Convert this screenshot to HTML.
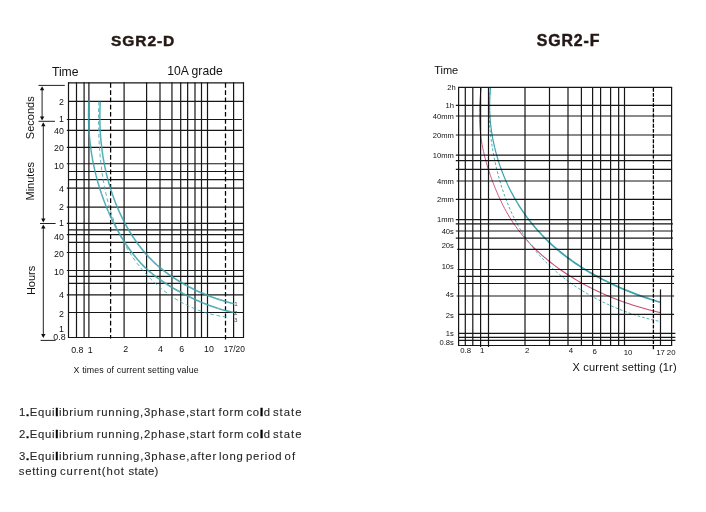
<!DOCTYPE html>
<html><head><meta charset="utf-8"><title>SGR2 curves</title>
<style>
html,body{margin:0;padding:0;background:#fff;}
body{width:706px;height:512px;overflow:hidden;font-family:"Liberation Sans",sans-serif;}
svg{display:block;will-change:transform;transform:translateZ(0);}
svg text{font-family:"Liberation Sans",sans-serif;}
</style></head>
<body>
<svg width="706" height="512" viewBox="0 0 706 512">
<rect width="706" height="512" fill="#ffffff"/>
<g stroke="#161616" stroke-width="1.2">
<line x1="68.5" y1="82.3" x2="68.5" y2="338.0" />
<line x1="76.5" y1="82.3" x2="76.5" y2="338.0" />
<line x1="84.1" y1="82.3" x2="84.1" y2="338.0" />
<line x1="88.9" y1="82.3" x2="88.9" y2="338.0" />
<line x1="124.1" y1="82.3" x2="124.1" y2="338.0" />
<line x1="146.6" y1="82.3" x2="146.6" y2="338.0" />
<line x1="160" y1="82.3" x2="160" y2="338.0" />
<line x1="171.95" y1="82.3" x2="171.95" y2="338.0" />
<line x1="180.7" y1="82.3" x2="180.7" y2="338.0" />
<line x1="187.65" y1="82.3" x2="187.65" y2="338.0" />
<line x1="195" y1="82.3" x2="195" y2="338.0" />
<line x1="201.5" y1="82.3" x2="201.5" y2="338.0" />
<line x1="207.5" y1="82.3" x2="207.5" y2="338.0" />
<line x1="233.6" y1="82.3" x2="233.6" y2="338.0" />
<line x1="243.5" y1="82.3" x2="243.5" y2="338.0" />
<line x1="68.0" y1="82.8" x2="244.0" y2="82.8" />
<line x1="68.0" y1="101.3" x2="244.0" y2="101.3" />
<line x1="66.8" y1="119.5" x2="241.9" y2="119.5" />
<line x1="66.8" y1="130.4" x2="241.9" y2="130.4" />
<line x1="66.8" y1="147.4" x2="244.0" y2="147.4" />
<line x1="66.8" y1="163.75" x2="244.0" y2="163.75" />
<line x1="68.0" y1="171.5" x2="244.0" y2="171.5" />
<line x1="68.0" y1="179.6" x2="244.0" y2="179.6" />
<line x1="66.8" y1="188.2" x2="244.0" y2="188.2" />
<line x1="66.8" y1="207.2" x2="244.0" y2="207.2" />
<line x1="66.8" y1="223.3" x2="244.0" y2="223.3" />
<line x1="68.0" y1="229.9" x2="244.0" y2="229.9" />
<line x1="66.8" y1="234.7" x2="244.0" y2="234.7" />
<line x1="68.0" y1="242.4" x2="244.0" y2="242.4" />
<line x1="66.8" y1="252.5" x2="244.0" y2="252.5" />
<line x1="66.8" y1="270.5" x2="244.0" y2="270.5" />
<line x1="68.0" y1="276.45" x2="244.0" y2="276.45" />
<line x1="68.0" y1="283.45" x2="244.0" y2="283.45" />
<line x1="66.8" y1="294.8" x2="244.0" y2="294.8" />
<line x1="68.0" y1="312.5" x2="244.0" y2="312.5" />
<line x1="68.0" y1="337.5" x2="244.0" y2="337.5" />
<line x1="110.6" y1="83.1" x2="110.6" y2="338.5" stroke-dasharray="4.7 2.5" stroke-width="1.25" stroke="#000"/>
<line x1="225.5" y1="83.1" x2="225.5" y2="339.5" stroke-dasharray="4.7 2.5" stroke-width="1.25" stroke="#000"/>
</g>
<g stroke="#222" stroke-width="1" fill="#111">
<line x1="38.5" y1="85.4" x2="64.8" y2="85.4" />
<line x1="38.5" y1="121.3" x2="55" y2="121.3" />
<line x1="40" y1="223.5" x2="55.6" y2="223.5" />
<line x1="40.6" y1="340.4" x2="55.6" y2="340.4" />
<line x1="42.1" y1="88.2" x2="42.1" y2="118.4" />
<path d="M42.1,86.2 l-2.2,4 h4.4 z" stroke="none"/>
<path d="M42.1,120.4 l-2.2,-4 h4.4 z" stroke="none"/>
<line x1="43.3" y1="124.3" x2="43.3" y2="220.6" />
<path d="M43.3,122.3 l-2.2,4 h4.4 z" stroke="none"/>
<path d="M43.3,222.6 l-2.2,-4 h4.4 z" stroke="none"/>
<line x1="43.3" y1="226.6" x2="43.3" y2="336" />
<path d="M43.3,224.6 l-2.2,4 h4.4 z" stroke="none"/>
<path d="M43.3,338 l-2.2,-4 h4.4 z" stroke="none"/>
</g>
<g fill="none" stroke="#3ba5ad" stroke-linecap="butt" opacity="0.88">
<path d="M100.30,101.60 L100.14,104.55 L100.01,107.51 L99.92,110.47 L99.86,113.44 L99.84,116.41 L99.85,119.38" stroke="#3ba5ad" stroke-width="1.50" stroke-linejoin="round"/>
<path d="M99.85,119.38 L99.90,122.36 L99.98,125.34 L100.09,128.32 L100.25,131.30 L100.43,134.28 L100.66,137.25" stroke="#3ba5ad" stroke-width="1.50" stroke-linejoin="round"/>
<path d="M100.66,137.25 L100.91,140.23 L101.21,143.21 L101.54,146.18 L101.91,149.15 L102.31,152.12 L102.75,155.08" stroke="#3ba5ad" stroke-width="1.50" stroke-linejoin="round"/>
<path d="M102.75,155.08 L103.23,158.03 L103.74,160.98 L104.29,163.92 L104.88,166.85 L105.50,169.78 L106.17,172.70" stroke="#3ba5ad" stroke-width="1.50" stroke-linejoin="round"/>
<path d="M106.17,172.70 L106.87,175.60 L107.61,178.50 L108.38,181.39 L109.20,184.26 L110.06,187.12 L110.95,189.97" stroke="#3ba5ad" stroke-width="1.50" stroke-linejoin="round"/>
<path d="M110.95,189.97 L111.88,192.81 L112.85,195.63 L113.86,198.43 L114.91,201.22 L116.00,204.00 L117.13,206.75" stroke="#3ba5ad" stroke-width="1.50" stroke-linejoin="round"/>
<path d="M117.13,206.75 L118.30,209.49 L119.51,212.21 L120.76,214.91 L122.05,217.59 L123.38,220.25 L124.75,222.89" stroke="#3ba5ad" stroke-width="1.54" stroke-linejoin="round"/>
<path d="M124.75,222.89 L126.16,225.51 L127.61,228.11 L129.11,230.68 L130.65,233.22 L132.23,235.73 L133.86,238.22" stroke="#3ba5ad" stroke-width="1.58" stroke-linejoin="round"/>
<path d="M133.86,238.22 L135.53,240.67 L137.25,243.08 L139.01,245.47 L140.83,247.81 L142.69,250.12 L144.60,252.38" stroke="#3ba5ad" stroke-width="1.61" stroke-linejoin="round"/>
<path d="M144.60,252.38 L146.56,254.61 L148.57,256.79 L150.63,258.92 L152.74,261.01 L154.89,263.05 L157.09,265.05" stroke="#3ba5ad" stroke-width="1.65" stroke-linejoin="round"/>
<path d="M157.09,265.05 L159.34,267.01 L161.63,268.92 L163.95,270.78 L166.32,272.60 L168.73,274.38 L171.17,276.10" stroke="#3ba5ad" stroke-width="1.65" stroke-linejoin="round"/>
<path d="M171.17,276.10 L173.64,277.79 L176.15,279.43 L178.70,281.02 L181.27,282.57 L183.87,284.07 L186.49,285.53" stroke="#3ba5ad" stroke-width="1.65" stroke-linejoin="round"/>
<path d="M186.49,285.53 L189.15,286.95 L191.82,288.32 L194.52,289.64 L197.24,290.92 L199.98,292.16 L202.74,293.36" stroke="#3ba5ad" stroke-width="1.65" stroke-linejoin="round"/>
<path d="M202.74,293.36 L205.51,294.51 L208.30,295.62 L211.10,296.69 L213.91,297.72 L216.73,298.70 L219.56,299.65" stroke="#3ba5ad" stroke-width="1.65" stroke-linejoin="round"/>
<path d="M219.56,299.65 L222.40,300.55 L225.24,301.41 L228.09,302.23 L230.94,303.01 L233.78,303.75" stroke="#3ba5ad" stroke-width="1.65" stroke-linejoin="round"/>
<path d="M89.00,100.20 L88.83,103.36 L88.69,106.52 L88.60,109.68 L88.55,112.84 L88.54,116.01 L88.57,119.18" stroke="#3ba5ad" stroke-width="1.50" stroke-linejoin="round"/>
<path d="M88.57,119.18 L88.64,122.34 L88.75,125.51 L88.91,128.67 L89.10,131.83 L89.33,134.99 L89.61,138.15" stroke="#3ba5ad" stroke-width="1.50" stroke-linejoin="round"/>
<path d="M89.61,138.15 L89.92,141.30 L90.28,144.45 L90.67,147.60 L91.11,150.74 L91.59,153.87 L92.11,157.00" stroke="#3ba5ad" stroke-width="1.50" stroke-linejoin="round"/>
<path d="M92.11,157.00 L92.66,160.12 L93.26,163.23 L93.90,166.34 L94.58,169.43 L95.30,172.52 L96.06,175.59" stroke="#3ba5ad" stroke-width="1.50" stroke-linejoin="round"/>
<path d="M96.06,175.59 L96.87,178.66 L97.71,181.71 L98.59,184.76 L99.51,187.79 L100.48,190.80 L101.48,193.81" stroke="#3ba5ad" stroke-width="1.50" stroke-linejoin="round"/>
<path d="M101.48,193.81 L102.52,196.80 L103.61,199.77 L104.73,202.73 L105.90,205.68 L107.10,208.60 L108.35,211.51" stroke="#3ba5ad" stroke-width="1.51" stroke-linejoin="round"/>
<path d="M108.35,211.51 L109.64,214.41 L110.96,217.28 L112.33,220.14 L113.74,222.97 L115.19,225.79 L116.67,228.59" stroke="#3ba5ad" stroke-width="1.55" stroke-linejoin="round"/>
<path d="M116.67,228.59 L118.20,231.36 L119.77,234.12 L121.38,236.85 L123.03,239.55 L124.72,242.23 L126.46,244.88" stroke="#3ba5ad" stroke-width="1.59" stroke-linejoin="round"/>
<path d="M126.46,244.88 L128.25,247.49 L130.08,250.07 L131.96,252.61 L133.90,255.10 L135.89,257.55 L137.93,259.95" stroke="#3ba5ad" stroke-width="1.63" stroke-linejoin="round"/>
<path d="M137.93,259.95 L140.03,262.29 L142.19,264.59 L144.41,266.82 L146.69,268.99 L149.04,271.10 L151.44,273.15" stroke="#3ba5ad" stroke-width="1.65" stroke-linejoin="round"/>
<path d="M151.44,273.15 L153.90,275.14 L156.41,277.07 L158.97,278.95 L161.57,280.78 L164.21,282.55 L166.89,284.28" stroke="#3ba5ad" stroke-width="1.65" stroke-linejoin="round"/>
<path d="M166.89,284.28 L169.60,285.96 L172.34,287.60 L175.10,289.20 L177.88,290.77 L180.68,292.29 L183.49,293.78" stroke="#3ba5ad" stroke-width="1.65" stroke-linejoin="round"/>
<path d="M183.49,293.78 L186.32,295.24 L189.15,296.66 L192.00,298.04 L194.87,299.39 L197.75,300.69 L200.64,301.95" stroke="#3ba5ad" stroke-width="1.65" stroke-linejoin="round"/>
<path d="M200.64,301.95 L203.56,303.16 L206.49,304.33 L209.44,305.45 L212.40,306.52 L215.39,307.54 L218.40,308.51" stroke="#3ba5ad" stroke-width="1.65" stroke-linejoin="round"/>
<path d="M218.40,308.51 L221.43,309.43 L224.48,310.28 L227.55,311.08 L230.65,311.82 L233.76,312.50" stroke="#3ba5ad" stroke-width="1.65" stroke-linejoin="round"/>
<path d="M98.70,101.60 C98.69,102.26 98.64,104.23 98.62,105.55 C98.59,106.87 98.57,108.20 98.56,109.53 C98.54,110.85 98.53,112.18 98.52,113.52 C98.52,114.85 98.51,116.19 98.52,117.53 C98.52,118.86 98.53,120.21 98.54,121.55 C98.55,122.89 98.57,124.24 98.59,125.59 C98.61,126.93 98.64,128.28 98.67,129.64 C98.71,130.99 98.75,132.34 98.79,133.69 C98.84,135.05 98.89,136.40 98.95,137.76 C99.01,139.12 99.07,140.47 99.14,141.83 C99.22,143.19 99.29,144.55 99.38,145.91 C99.47,147.27 99.56,148.62 99.66,149.98 C99.76,151.34 99.87,152.70 99.98,154.06 C100.10,155.42 100.22,156.78 100.35,158.14 C100.48,159.50 100.62,160.85 100.77,162.21 C100.92,163.57 101.07,164.92 101.24,166.28 C101.40,167.63 101.58,168.99 101.76,170.34 C101.94,171.69 102.14,173.04 102.34,174.39 C102.54,175.74 102.75,177.08 102.97,178.43 C103.19,179.77 103.42,181.11 103.66,182.45 C103.90,183.79 104.15,185.13 104.41,186.46 C104.67,187.80 104.95,189.13 105.23,190.46 C105.51,191.79 105.80,193.11 106.11,194.44 C106.41,195.76 106.73,197.08 107.05,198.39 C107.38,199.71 107.72,201.02 108.07,202.33 C108.42,203.63 108.78,204.94 109.15,206.23 C109.52,207.53 109.91,208.83 110.31,210.12 C110.71,211.41 111.12,212.69 111.54,213.97 C111.96,215.25 112.40,216.53 112.85,217.80 C113.30,219.07 113.76,220.33 114.23,221.59 C114.71,222.85 115.20,224.11 115.70,225.35 C116.20,226.60 116.72,227.84 117.25,229.08 C117.78,230.31 118.32,231.54 118.88,232.77 C119.44,233.99 120.01,235.21 120.60,236.41 C121.19,237.62 121.79,238.83 122.41,240.02 C123.03,241.22 123.66,242.41 124.31,243.59 C124.95,244.77 125.62,245.94 126.30,247.11 C126.97,248.27 127.67,249.43 128.37,250.58 C129.08,251.72 129.80,252.87 130.54,254.00 C131.28,255.13 132.03,256.25 132.80,257.36 C133.56,258.47 134.34,259.58 135.14,260.67 C135.93,261.76 136.74,262.84 137.56,263.92 C138.38,264.99 139.22,266.05 140.06,267.10 C140.91,268.15 141.78,269.19 142.65,270.21 C143.53,271.24 144.42,272.26 145.32,273.26 C146.22,274.26 147.14,275.25 148.06,276.23 C148.99,277.21 149.93,278.18 150.88,279.13 C151.84,280.08 152.80,281.02 153.78,281.95 C154.76,282.87 155.75,283.78 156.75,284.68 C157.75,285.58 158.77,286.46 159.80,287.33 C160.82,288.20 161.86,289.05 162.91,289.89 C163.96,290.73 165.02,291.55 166.09,292.36 C167.16,293.16 168.25,293.96 169.34,294.73 C170.44,295.51 171.54,296.26 172.66,297.01 C173.78,297.75 174.91,298.47 176.04,299.18 C177.18,299.89 178.33,300.58 179.49,301.25 C180.65,301.92 181.82,302.58 183.00,303.21 C184.18,303.85 185.37,304.47 186.57,305.06 C187.77,305.66 188.98,306.24 190.19,306.80 C191.41,307.36 192.64,307.90 193.88,308.42 C195.12,308.94 196.37,309.45 197.62,309.93 C198.88,310.41 200.15,310.87 201.42,311.30 C202.69,311.74 203.98,312.16 205.27,312.56 C206.56,312.95 207.86,313.33 209.17,313.68 C210.48,314.03 211.80,314.36 213.12,314.67 C214.45,314.98 215.78,315.26 217.13,315.53 C218.47,315.79 219.82,316.03 221.18,316.24 C222.53,316.46 223.90,316.65 225.27,316.82 C226.64,316.99 228.72,317.18 229.41,317.25" stroke-width="0.95" stroke-dasharray="3.8 2.7"/>
</g>
<g stroke="#161616" stroke-width="1.2">
<line x1="458.6" y1="86.9" x2="458.6" y2="346.0" />
<line x1="465.3" y1="86.9" x2="465.3" y2="346.0" />
<line x1="472.8" y1="86.9" x2="472.8" y2="346.0" />
<line x1="480.6" y1="86.9" x2="480.6" y2="347.1" />
<line x1="488.5" y1="86.9" x2="488.5" y2="347.1" />
<line x1="525" y1="86.9" x2="525" y2="346.0" />
<line x1="549.5" y1="86.9" x2="549.5" y2="346.0" />
<line x1="568" y1="86.9" x2="568" y2="346.0" />
<line x1="581.4" y1="86.9" x2="581.4" y2="346.0" />
<line x1="592.6" y1="86.9" x2="592.6" y2="346.0" />
<line x1="600.6" y1="86.9" x2="600.6" y2="346.0" />
<line x1="610.6" y1="86.9" x2="610.6" y2="346.0" />
<line x1="618.65" y1="86.9" x2="618.65" y2="346.0" />
<line x1="624.5" y1="86.9" x2="624.5" y2="346.0" />
<line x1="671.6" y1="86.9" x2="671.6" y2="346.0" />
<line x1="660.5" y1="289.4" x2="660.5" y2="346.0" />
<line x1="458.1" y1="87.4" x2="672.1" y2="87.4" />
<line x1="455.8" y1="105.4" x2="672.1" y2="105.4" />
<line x1="455.8" y1="116" x2="672.1" y2="116" />
<line x1="455.8" y1="135" x2="672.1" y2="135" />
<line x1="455.8" y1="155.2" x2="672.1" y2="155.2" />
<line x1="455.8" y1="160.6" x2="672.1" y2="160.6" />
<line x1="455.8" y1="169.4" x2="672.1" y2="169.4" />
<line x1="456.6" y1="181" x2="672.1" y2="181" />
<line x1="455.8" y1="199.4" x2="672.1" y2="199.4" />
<line x1="455.8" y1="219.6" x2="672.1" y2="219.6" />
<line x1="455.8" y1="223.9" x2="672.9" y2="223.9" />
<line x1="455.8" y1="231" x2="672.9" y2="231" />
<line x1="455.8" y1="238.1" x2="672.9" y2="238.1" />
<line x1="457.20000000000005" y1="249.3" x2="672.9" y2="249.3" />
<line x1="457.6" y1="269.5" x2="674.1" y2="269.5" />
<line x1="457.6" y1="276.4" x2="674.1" y2="276.4" />
<line x1="457.6" y1="283.5" x2="674.1" y2="283.5" />
<line x1="456.6" y1="296" x2="674.1" y2="296" />
<line x1="458.1" y1="314.4" x2="674.1" y2="314.4" />
<line x1="458.1" y1="333.4" x2="675.4" y2="333.4" />
<line x1="458.1" y1="337.4" x2="675.4" y2="337.4" />
<line x1="458.1" y1="340.4" x2="675.4" y2="340.4" />
<line x1="458.1" y1="345.5" x2="672.1" y2="345.5" />
<line x1="653.4" y1="87.75" x2="653.4" y2="350" stroke-dasharray="3.9 1.25" stroke-width="1.3" stroke="#000"/>
</g>
<g fill="none" stroke-linecap="butt" style="mix-blend-mode:multiply">
<path d="M481.25,87.50 L480.81,91.05 L480.43,94.61 L480.11,98.17 L479.84,101.75 L479.65,105.33 L479.51,108.91" stroke="#c9496f" stroke-width="0.90" stroke-linejoin="round"/>
<path d="M479.51,108.91 L479.44,112.49 L479.44,116.07 L479.51,119.65 L479.65,123.22 L479.87,126.78 L480.16,130.34" stroke="#c9496f" stroke-width="0.90" stroke-linejoin="round"/>
<path d="M480.16,130.34 L480.52,133.88 L480.97,137.42 L481.49,140.93 L482.09,144.44 L482.76,147.93 L483.49,151.41" stroke="#c9496f" stroke-width="0.90" stroke-linejoin="round"/>
<path d="M483.49,151.41 L484.30,154.88 L485.17,158.33 L486.10,161.78 L487.08,165.21 L488.13,168.63 L489.23,172.03" stroke="#c9496f" stroke-width="0.90" stroke-linejoin="round"/>
<path d="M489.23,172.03 L490.37,175.43 L491.57,178.81 L492.83,182.17 L494.13,185.52 L495.47,188.85 L496.87,192.16" stroke="#c9496f" stroke-width="0.90" stroke-linejoin="round"/>
<path d="M496.87,192.16 L498.31,195.44 L499.80,198.71 L501.34,201.95 L502.92,205.16 L504.56,208.34 L506.25,211.48" stroke="#c9496f" stroke-width="0.90" stroke-linejoin="round"/>
<path d="M506.25,211.48 L508.01,214.59 L509.83,217.65 L511.73,220.66 L513.71,223.62 L515.75,226.53 L517.86,229.39" stroke="#c9496f" stroke-width="0.95" stroke-linejoin="round"/>
<path d="M517.86,229.39 L520.04,232.19 L522.28,234.96 L524.58,237.67 L526.93,240.33 L529.34,242.95 L531.80,245.52" stroke="#c9496f" stroke-width="0.99" stroke-linejoin="round"/>
<path d="M531.80,245.52 L534.31,248.05 L536.88,250.53 L539.48,252.96 L542.14,255.34 L544.84,257.68 L547.58,259.97" stroke="#c9496f" stroke-width="1.03" stroke-linejoin="round"/>
<path d="M547.58,259.97 L550.36,262.22 L553.19,264.42 L556.05,266.57 L558.95,268.68 L561.88,270.74 L564.85,272.76" stroke="#c9496f" stroke-width="1.07" stroke-linejoin="round"/>
<path d="M564.85,272.76 L567.85,274.73 L570.88,276.65 L573.94,278.53 L577.02,280.37 L580.13,282.16 L583.27,283.91" stroke="#c9496f" stroke-width="1.10" stroke-linejoin="round"/>
<path d="M583.27,283.91 L586.43,285.61 L589.61,287.27 L592.81,288.88 L596.02,290.45 L599.26,291.98 L602.50,293.46" stroke="#c9496f" stroke-width="1.10" stroke-linejoin="round"/>
<path d="M602.50,293.46 L605.77,294.90 L609.04,296.29 L612.33,297.64 L615.64,298.96 L618.96,300.23 L622.29,301.46" stroke="#c9496f" stroke-width="1.10" stroke-linejoin="round"/>
<path d="M622.29,301.46 L625.64,302.65 L629.01,303.80 L632.39,304.91 L635.78,305.98 L639.20,307.02 L642.62,308.02" stroke="#c9496f" stroke-width="1.10" stroke-linejoin="round"/>
<path d="M642.62,308.02 L646.07,308.99 L649.53,309.92 L653.00,310.81 L656.49,311.67 L660.00,312.50" stroke="#c9496f" stroke-width="1.10" stroke-linejoin="round"/>
<path d="M490.60,87.50 L490.28,90.84 L490.02,94.18 L489.83,97.52 L489.70,100.87 L489.64,104.21 L489.65,107.56" stroke="#3ba5ad" stroke-width="1.20" stroke-linejoin="round"/>
<path d="M489.65,107.56 L489.72,110.91 L489.86,114.26 L490.06,117.61 L490.32,120.95 L490.64,124.28 L491.03,127.61" stroke="#3ba5ad" stroke-width="1.20" stroke-linejoin="round"/>
<path d="M491.03,127.61 L491.47,130.94 L491.98,134.26 L492.55,137.56 L493.18,140.86 L493.87,144.15 L494.62,147.43" stroke="#3ba5ad" stroke-width="1.20" stroke-linejoin="round"/>
<path d="M494.62,147.43 L495.42,150.69 L496.29,153.94 L497.21,157.17 L498.18,160.39 L499.22,163.59 L500.31,166.77" stroke="#3ba5ad" stroke-width="1.20" stroke-linejoin="round"/>
<path d="M500.31,166.77 L501.45,169.93 L502.65,173.08 L503.91,176.20 L505.22,179.30 L506.58,182.37 L507.99,185.43" stroke="#3ba5ad" stroke-width="1.20" stroke-linejoin="round"/>
<path d="M507.99,185.43 L509.46,188.45 L510.98,191.45 L512.55,194.42 L514.17,197.37 L515.84,200.28 L517.56,203.16" stroke="#3ba5ad" stroke-width="1.30" stroke-linejoin="round"/>
<path d="M517.56,203.16 L519.33,206.01 L521.15,208.83 L523.01,211.62 L524.93,214.37 L526.89,217.08 L528.90,219.76" stroke="#3ba5ad" stroke-width="1.42" stroke-linejoin="round"/>
<path d="M528.90,219.76 L530.95,222.40 L533.05,225.00 L535.19,227.56 L537.38,230.08 L539.62,232.55 L541.89,234.99" stroke="#3ba5ad" stroke-width="1.53" stroke-linejoin="round"/>
<path d="M541.89,234.99 L544.21,237.38 L546.57,239.73 L548.97,242.04 L551.41,244.31 L553.89,246.54 L556.40,248.72" stroke="#3ba5ad" stroke-width="1.63" stroke-linejoin="round"/>
<path d="M556.40,248.72 L558.95,250.87 L561.54,252.98 L564.16,255.04 L566.81,257.07 L569.50,259.06 L572.21,261.01" stroke="#3ba5ad" stroke-width="1.72" stroke-linejoin="round"/>
<path d="M572.21,261.01 L574.96,262.93 L577.74,264.80 L580.54,266.64 L583.37,268.44 L586.23,270.20 L589.11,271.93" stroke="#3ba5ad" stroke-width="1.75" stroke-linejoin="round"/>
<path d="M589.11,271.93 L592.02,273.62 L594.95,275.27 L597.90,276.89 L600.87,278.47 L603.86,280.02 L606.87,281.53" stroke="#3ba5ad" stroke-width="1.75" stroke-linejoin="round"/>
<path d="M606.87,281.53 L609.90,283.01 L612.95,284.46 L616.01,285.87 L619.09,287.25 L622.18,288.59 L625.28,289.90" stroke="#3ba5ad" stroke-width="1.75" stroke-linejoin="round"/>
<path d="M625.28,289.90 L628.40,291.18 L631.53,292.43 L634.66,293.64 L637.81,294.82 L640.97,295.98 L644.13,297.10" stroke="#3ba5ad" stroke-width="1.75" stroke-linejoin="round"/>
<path d="M644.13,297.10 L647.29,298.19 L650.47,299.25 L653.64,300.28 L656.82,301.28 L660.00,302.25" stroke="#3ba5ad" stroke-width="1.75" stroke-linejoin="round"/>
<path d="M490.20,87.50 C490.13,88.27 489.91,90.58 489.78,92.12 C489.66,93.66 489.56,95.20 489.47,96.74 C489.38,98.28 489.31,99.82 489.26,101.35 C489.20,102.89 489.17,104.43 489.14,105.96 C489.12,107.50 489.12,109.04 489.13,110.57 C489.14,112.10 489.16,113.64 489.20,115.17 C489.25,116.70 489.30,118.23 489.38,119.77 C489.45,121.30 489.53,122.83 489.64,124.35 C489.74,125.88 489.86,127.41 489.99,128.94 C490.12,130.46 490.27,131.99 490.43,133.51 C490.59,135.04 490.76,136.56 490.95,138.08 C491.14,139.60 491.34,141.12 491.56,142.64 C491.78,144.16 492.01,145.67 492.25,147.19 C492.50,148.70 492.75,150.22 493.02,151.73 C493.29,153.24 493.58,154.75 493.87,156.26 C494.17,157.77 494.48,159.27 494.80,160.78 C495.12,162.28 495.45,163.79 495.80,165.29 C496.14,166.79 496.50,168.29 496.87,169.79 C497.24,171.28 497.62,172.78 498.02,174.27 C498.41,175.77 498.82,177.26 499.23,178.74 C499.65,180.23 500.08,181.71 500.53,183.19 C500.97,184.67 501.43,186.15 501.90,187.62 C502.38,189.09 502.86,190.55 503.36,192.02 C503.86,193.48 504.37,194.93 504.90,196.38 C505.43,197.83 505.97,199.28 506.52,200.71 C507.08,202.15 507.65,203.58 508.24,205.01 C508.83,206.43 509.43,207.85 510.05,209.25 C510.66,210.66 511.30,212.07 511.95,213.46 C512.60,214.85 513.26,216.23 513.94,217.61 C514.62,218.98 515.32,220.35 516.04,221.71 C516.75,223.06 517.49,224.41 518.24,225.75 C518.99,227.08 519.75,228.41 520.54,229.72 C521.32,231.04 522.13,232.34 522.95,233.64 C523.77,234.93 524.61,236.21 525.46,237.48 C526.32,238.75 527.20,240.00 528.09,241.25 C528.99,242.49 529.90,243.72 530.83,244.94 C531.76,246.16 532.71,247.36 533.67,248.56 C534.63,249.75 535.62,250.93 536.61,252.10 C537.61,253.27 538.62,254.42 539.65,255.56 C540.68,256.70 541.73,257.83 542.79,258.95 C543.84,260.06 544.92,261.16 546.01,262.25 C547.10,263.34 548.20,264.41 549.31,265.47 C550.43,266.53 551.56,267.58 552.70,268.62 C553.85,269.65 555.00,270.67 556.17,271.67 C557.34,272.68 558.52,273.67 559.71,274.65 C560.90,275.63 562.10,276.59 563.32,277.54 C564.53,278.49 565.76,279.43 567.00,280.35 C568.23,281.27 569.48,282.17 570.73,283.07 C571.99,283.96 573.26,284.84 574.53,285.70 C575.81,286.56 577.09,287.41 578.38,288.25 C579.68,289.08 580.98,289.91 582.29,290.71 C583.60,291.52 584.92,292.32 586.24,293.10 C587.57,293.88 588.91,294.64 590.25,295.40 C591.59,296.15 592.94,296.89 594.29,297.62 C595.65,298.35 597.01,299.06 598.38,299.76 C599.75,300.46 601.13,301.15 602.51,301.83 C603.89,302.50 605.27,303.16 606.67,303.81 C608.06,304.46 609.46,305.10 610.86,305.72 C612.27,306.35 613.68,306.96 615.09,307.55 C616.51,308.15 617.93,308.73 619.35,309.30 C620.78,309.87 622.21,310.43 623.64,310.97 C625.08,311.51 626.52,312.04 627.96,312.56 C629.41,313.07 630.86,313.58 632.31,314.06 C633.77,314.55 635.23,315.02 636.69,315.48 C638.16,315.94 639.63,316.39 641.10,316.82 C642.57,317.25 644.05,317.66 645.53,318.06 C647.02,318.46 648.50,318.85 650.00,319.22 C651.49,319.59 652.98,319.94 654.48,320.28 C655.99,320.62 658.25,321.09 659.00,321.25" stroke="#3ba5ad" stroke-width="0.9" stroke-dasharray="2.8 1.9"/>
</g>
<text x="111.0" y="45.6" font-size="15.5" text-anchor="start" font-weight="bold" fill="#231815" letter-spacing="0.95" stroke="#231815" stroke-width="0.45">SGR2-D</text>
<text x="536.7" y="45.5" font-size="15.9" text-anchor="start" font-weight="bold" fill="#231815" letter-spacing="0.9" stroke="#231815" stroke-width="0.45">SGR2-F</text>
<text x="51.9" y="75.6" font-size="12.2" text-anchor="start" font-weight="normal" fill="#111" >Time</text>
<text x="167.3" y="74.9" font-size="12.15" text-anchor="start" font-weight="normal" fill="#111" >10A grade</text>
<text x="434.2" y="74" font-size="11" text-anchor="start" font-weight="normal" fill="#111" >Time</text>
<text transform="translate(34,117.75) rotate(-90)" font-size="11" text-anchor="middle" fill="#111">Seconds</text>
<text transform="translate(34,181.25) rotate(-90)" font-size="11" text-anchor="middle" fill="#111">Minutes</text>
<text transform="translate(35.2,280.4) rotate(-90)" font-size="11" text-anchor="middle" fill="#111">Hours</text>
<text x="63.9" y="105.4" font-size="8.8" text-anchor="end" font-weight="normal" fill="#111" >2</text>
<text x="63.9" y="121.95" font-size="8.8" text-anchor="end" font-weight="normal" fill="#111" >1</text>
<text x="63.9" y="133.95" font-size="8.8" text-anchor="end" font-weight="normal" fill="#111" >40</text>
<text x="63.9" y="150.7" font-size="8.8" text-anchor="end" font-weight="normal" fill="#111" >20</text>
<text x="63.9" y="168.7" font-size="8.8" text-anchor="end" font-weight="normal" fill="#111" >10</text>
<text x="63.9" y="191.95" font-size="8.8" text-anchor="end" font-weight="normal" fill="#111" >4</text>
<text x="63.9" y="210.2" font-size="8.8" text-anchor="end" font-weight="normal" fill="#111" >2</text>
<text x="63.9" y="226.1" font-size="8.8" text-anchor="end" font-weight="normal" fill="#111" >1</text>
<text x="63.9" y="239.7" font-size="8.8" text-anchor="end" font-weight="normal" fill="#111" >40</text>
<text x="63.9" y="257.2" font-size="8.8" text-anchor="end" font-weight="normal" fill="#111" >20</text>
<text x="63.9" y="274.7" font-size="8.8" text-anchor="end" font-weight="normal" fill="#111" >10</text>
<text x="63.9" y="297.95" font-size="8.8" text-anchor="end" font-weight="normal" fill="#111" >4</text>
<text x="63.9" y="316.8" font-size="8.8" text-anchor="end" font-weight="normal" fill="#111" >2</text>
<text x="63.9" y="331.9" font-size="8.8" text-anchor="end" font-weight="normal" fill="#111" >1</text>
<text x="65.6" y="340.09999999999997" font-size="8.8" text-anchor="end" font-weight="normal" fill="#111" >0.8</text>
<text x="77.3" y="352.6" font-size="8.8" text-anchor="middle" font-weight="normal" fill="#111" >0.8</text>
<text x="90.3" y="352.6" font-size="8.8" text-anchor="middle" font-weight="normal" fill="#111" >1</text>
<text x="125.6" y="352.1" font-size="8.8" text-anchor="middle" font-weight="normal" fill="#111" >2</text>
<text x="160.4" y="352.2" font-size="8.8" text-anchor="middle" font-weight="normal" fill="#111" >4</text>
<text x="181.6" y="352.1" font-size="8.8" text-anchor="middle" font-weight="normal" fill="#111" >6</text>
<text x="209" y="351.6" font-size="8.8" text-anchor="middle" font-weight="normal" fill="#111" >10</text>
<text x="223.8" y="351.5" font-size="8.8" text-anchor="start" font-weight="normal" fill="#111" textLength="21" lengthAdjust="spacingAndGlyphs">17/20</text>
<text x="73.6" y="372.8" font-size="8.8" text-anchor="start" font-weight="normal" fill="#111" textLength="125" lengthAdjust="spacing">X times of current setting value</text>
<text x="234.2" y="306.2" font-size="6.2" text-anchor="start" font-weight="normal" fill="#444" >1</text>
<text x="234.0" y="314.6" font-size="6.2" text-anchor="start" font-weight="normal" fill="#444" >2</text>
<text x="234.0" y="321.5" font-size="6.2" text-anchor="start" font-weight="normal" fill="#444" >3</text>
<text x="455.7" y="89.6" font-size="7.6" text-anchor="end" font-weight="normal" fill="#111" >2h</text>
<text x="453.9" y="107.9" font-size="7.6" text-anchor="end" font-weight="normal" fill="#111" >1h</text>
<text x="453.9" y="118.7" font-size="7.6" text-anchor="end" font-weight="normal" fill="#111" >40mm</text>
<text x="453.9" y="137.7" font-size="7.6" text-anchor="end" font-weight="normal" fill="#111" >20mm</text>
<text x="453.9" y="157.89999999999998" font-size="7.6" text-anchor="end" font-weight="normal" fill="#111" >10mm</text>
<text x="453.9" y="183.7" font-size="7.6" text-anchor="end" font-weight="normal" fill="#111" >4mm</text>
<text x="453.9" y="202.1" font-size="7.6" text-anchor="end" font-weight="normal" fill="#111" >2mm</text>
<text x="453.9" y="222.29999999999998" font-size="7.6" text-anchor="end" font-weight="normal" fill="#111" >1mm</text>
<text x="453.9" y="233.7" font-size="7.6" text-anchor="end" font-weight="normal" fill="#111" >40s</text>
<text x="453.9" y="248.1" font-size="7.6" text-anchor="end" font-weight="normal" fill="#111" >20s</text>
<text x="453.9" y="269.09999999999997" font-size="7.6" text-anchor="end" font-weight="normal" fill="#111" >10s</text>
<text x="453.9" y="296.8" font-size="7.6" text-anchor="end" font-weight="normal" fill="#111" >4s</text>
<text x="453.9" y="318.09999999999997" font-size="7.6" text-anchor="end" font-weight="normal" fill="#111" >2s</text>
<text x="453.9" y="335.95" font-size="7.6" text-anchor="end" font-weight="normal" fill="#111" >1s</text>
<text x="453.9" y="345.2" font-size="7.6" text-anchor="end" font-weight="normal" fill="#111" >0.8s</text>
<text x="465.6" y="352.9" font-size="7.8" text-anchor="middle" font-weight="normal" fill="#111" >0.8</text>
<text x="482.1" y="352.9" font-size="7.8" text-anchor="middle" font-weight="normal" fill="#111" >1</text>
<text x="527.25" y="352.9" font-size="7.8" text-anchor="middle" font-weight="normal" fill="#111" >2</text>
<text x="570.9" y="353.3" font-size="7.8" text-anchor="middle" font-weight="normal" fill="#111" >4</text>
<text x="594.75" y="354.1" font-size="7.8" text-anchor="middle" font-weight="normal" fill="#111" >6</text>
<text x="628.1" y="354.7" font-size="7.8" text-anchor="middle" font-weight="normal" fill="#111" >10</text>
<text x="660.5" y="354.7" font-size="7.8" text-anchor="middle" font-weight="normal" fill="#111" >17</text>
<text x="671.2" y="354.7" font-size="7.8" text-anchor="middle" font-weight="normal" fill="#111" >20</text>
<text x="572.6" y="371.2" font-size="11" text-anchor="start" font-weight="normal" fill="#111" textLength="104" lengthAdjust="spacing">X current setting (1r)</text>
<text x="18.9" y="416" font-size="11.3" text-anchor="start" font-weight="normal" fill="#262626" textLength="74.5" lengthAdjust="spacing" stroke="#262626" stroke-width="0.1">1<tspan font-weight="bold" fill="#000" stroke="#000" stroke-width="0.35">.</tspan>Equi<tspan font-weight="bold" fill="#000" stroke="#000" stroke-width="0.5">l</tspan>ibrium</text>
<text x="96.7" y="416" font-size="11.3" text-anchor="start" font-weight="normal" fill="#262626" textLength="118.3" lengthAdjust="spacing" stroke="#262626" stroke-width="0.1">running,3phase,start</text>
<text x="218.5" y="416" font-size="11.3" text-anchor="start" font-weight="normal" fill="#262626" textLength="25.0" lengthAdjust="spacing" stroke="#262626" stroke-width="0.1">form</text>
<text x="246.4" y="416" font-size="11.3" text-anchor="start" font-weight="normal" fill="#262626" textLength="23.7" lengthAdjust="spacing" stroke="#262626" stroke-width="0.1">co<tspan font-weight="bold" fill="#000" stroke="#000" stroke-width="0.5">l</tspan>d</text>
<text x="272.9" y="416" font-size="11.3" text-anchor="start" font-weight="normal" fill="#262626" textLength="28.7" lengthAdjust="spacing" stroke="#262626" stroke-width="0.1">state</text>
<text x="18.9" y="438.4" font-size="11.3" text-anchor="start" font-weight="normal" fill="#262626" textLength="74.5" lengthAdjust="spacing" stroke="#262626" stroke-width="0.1">2<tspan font-weight="bold" fill="#000" stroke="#000" stroke-width="0.35">.</tspan>Equi<tspan font-weight="bold" fill="#000" stroke="#000" stroke-width="0.5">l</tspan>ibrium</text>
<text x="96.7" y="438.4" font-size="11.3" text-anchor="start" font-weight="normal" fill="#262626" textLength="118.3" lengthAdjust="spacing" stroke="#262626" stroke-width="0.1">running,2phase,start</text>
<text x="218.5" y="438.4" font-size="11.3" text-anchor="start" font-weight="normal" fill="#262626" textLength="25.0" lengthAdjust="spacing" stroke="#262626" stroke-width="0.1">form</text>
<text x="246.4" y="438.4" font-size="11.3" text-anchor="start" font-weight="normal" fill="#262626" textLength="23.7" lengthAdjust="spacing" stroke="#262626" stroke-width="0.1">co<tspan font-weight="bold" fill="#000" stroke="#000" stroke-width="0.5">l</tspan>d</text>
<text x="272.9" y="438.4" font-size="11.3" text-anchor="start" font-weight="normal" fill="#262626" textLength="28.7" lengthAdjust="spacing" stroke="#262626" stroke-width="0.1">state</text>
<text x="18.9" y="459.6" font-size="11.3" text-anchor="start" font-weight="normal" fill="#262626" textLength="74.5" lengthAdjust="spacing" stroke="#262626" stroke-width="0.1">3<tspan font-weight="bold" fill="#000" stroke="#000" stroke-width="0.35">.</tspan>Equi<tspan font-weight="bold" fill="#000" stroke="#000" stroke-width="0.5">l</tspan>ibrium</text>
<text x="96.7" y="459.6" font-size="11.3" text-anchor="start" font-weight="normal" fill="#262626" textLength="119.5" lengthAdjust="spacing" stroke="#262626" stroke-width="0.1">running,3phase,after</text>
<text x="218.9" y="459.6" font-size="11.3" text-anchor="start" font-weight="normal" fill="#262626" textLength="23.9" lengthAdjust="spacing" stroke="#262626" stroke-width="0.1">long</text>
<text x="246.0" y="459.6" font-size="11.3" text-anchor="start" font-weight="normal" fill="#262626" textLength="35.6" lengthAdjust="spacing" stroke="#262626" stroke-width="0.1">period</text>
<text x="284.5" y="459.6" font-size="11.3" text-anchor="start" font-weight="normal" fill="#262626" textLength="10.7" lengthAdjust="spacing" stroke="#262626" stroke-width="0.1">of</text>
<text x="18.7" y="474.5" font-size="11.3" text-anchor="start" font-weight="normal" fill="#262626" textLength="38.0" lengthAdjust="spacing" stroke="#262626" stroke-width="0.1">setting</text>
<text x="60.0" y="474.5" font-size="11.3" text-anchor="start" font-weight="normal" fill="#262626" textLength="64.0" lengthAdjust="spacing" stroke="#262626" stroke-width="0.1">current(hot</text>
<text x="128.6" y="474.5" font-size="11.3" text-anchor="start" font-weight="normal" fill="#262626" textLength="29.6" lengthAdjust="spacing" stroke="#262626" stroke-width="0.1">state)</text>
</svg>
</body></html>
